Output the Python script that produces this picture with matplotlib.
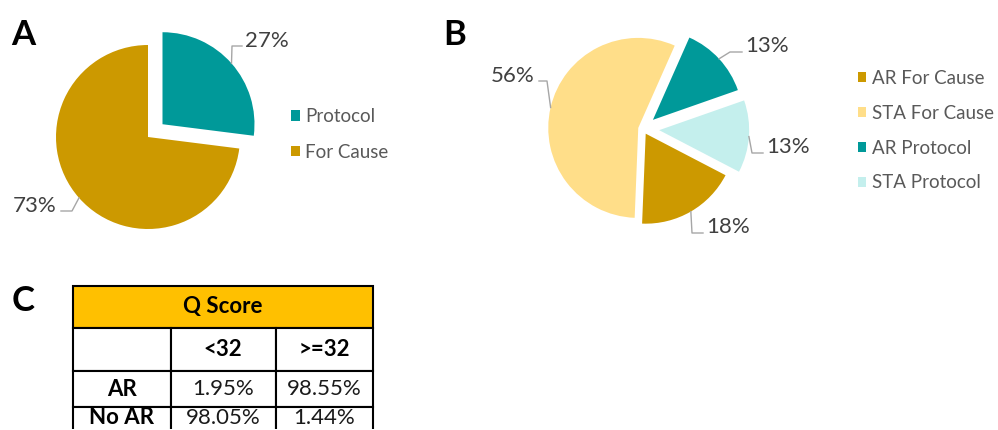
import math
import matplotlib.pyplot as plt

plt.rcParams['font.family'] = ['Lato', 'DejaVu Sans']

W, H = 998, 430

# panel A
a_labels = ['Protocol', 'For Cause']
a_values = [27, 73]

# panel B
b_labels = ['AR For Cause', 'STA For Cause', 'AR Protocol', 'STA Protocol']
b_values = [18, 56, 13, 13]

# panel C
q_header = 'Q Score'
q_cols = ['', '<32', '>=32']
q_rows = ['AR', 'No AR']
q_cells = [['1.95%', '98.55%'],
           ['98.05%', '1.44%']]

TEAL = '#009999'
GOLD = '#CC9900'
PALE_GOLD = '#FFDE89'
PALE_TEAL = '#C4EFED'
HEAD = '#FFC000'
LEAD = '#A6A6A6'
PCT = '#404040'
LEG = '#595959'

fig = plt.figure(figsize=(W / 100, H / 100), dpi=100)


def draw_pie(cx, cy, r, half, values, colors, explode, start, labels_at):
    ax = fig.add_axes([(cx - half) / W, 1 - (cy + half) / H, 2 * half / W, 2 * half / H])
    wedges, _ = ax.pie(values, colors=colors, explode=explode, startangle=start,
                       counterclock=False, wedgeprops=dict(linewidth=0))
    ax.set_xlim(-half / r, half / r)
    ax.set_ylim(-half / r, half / r)
    ax.set_aspect('equal')

    def d(px, py):
        return (px - cx) / r, (cy - py) / r

    # leader line from the middle of each wedge's rim to its label
    for w, v, (tx, ty, ha, bx, by) in zip(wedges, values, labels_at):
        mid = math.radians((w.theta1 + w.theta2) / 2)
        ex = w.center[0] + w.r * math.cos(mid)
        ey = w.center[1] + w.r * math.sin(mid)
        endx = tx + 4 if ha == 'right' else tx - 3
        p1 = d(bx, by)
        p2 = d(endx, by)
        ax.plot([ex, p1[0], p2[0]], [ey, p1[1], p2[1]], color=LEAD, lw=1.0, clip_on=False)
        t = d(tx, ty)
        ax.text(t[0], t[1], f'{v}%', ha=ha, va='baseline', fontsize=16, color=PCT)
    return ax, wedges


# A
axA, wA = draw_pie(148, 137, 92, 130, a_values, [TEAL, GOLD], [0.21, 0], 90,
                   [(245, 47, 'left', 232, 46), (57, 212, 'right', 72, 211)])
axA.legend(wA, a_labels, loc='upper left', bbox_to_anchor=(291 / W, 1 - 108 / H),
           bbox_transform=fig.transFigure, frameon=False, fontsize=13.5,
           labelcolor=LEG, handlelength=0.48, handleheight=0.48, handletextpad=0.27,
           labelspacing=1.0, borderpad=0, borderaxespad=0)

# B
axB, wB = draw_pie(643, 129, 90, 125, b_values, [GOLD, PALE_GOLD, TEAL, PALE_TEAL],
                   [0.06, 0.054, 0.15, 0.18], -27.5,
                   [(706, 233, 'left', 692, 233), (535, 82, 'right', 547, 81),
                    (745, 52, 'left', 730, 52), (766, 153, 'left', 752, 153)])
axB.legend(wB, b_labels, loc='upper left', bbox_to_anchor=(858 / W, 1 - 70 / H),
           bbox_transform=fig.transFigure, frameon=False, fontsize=13.5,
           labelcolor=LEG, handlelength=0.45, handleheight=0.45, handletextpad=0.3,
           labelspacing=0.95, borderpad=0, borderaxespad=0)

# C table (last row runs off the bottom of the figure)
row_h = [42, 43, 36, 22]
col_w = [97.5, 105, 97.5]
tot_h = sum(row_h)
axC = fig.add_axes([73 / W, 1 - (286 + tot_h) / H, sum(col_w) / W, tot_h / H])
axC.axis('off')

head = axC.table(cellText=[[q_header]], cellLoc='center',
                 bbox=[0, 1 - row_h[0] / tot_h, 1, row_h[0] / tot_h])
body_text = [q_cols] + [[r] + c for r, c in zip(q_rows, q_cells)]
body = axC.table(cellText=body_text, cellLoc='center', colWidths=col_w,
                 bbox=[0, 0, 1, 1 - row_h[0] / tot_h])
for tb in (head, body):
    tb.auto_set_font_size(False)
    tb.set_fontsize(16)
for (i, j), cell in head.get_celld().items():
    cell.set_facecolor(HEAD)
    cell.set_edgecolor('black')
    cell.set_linewidth(1.5)
    cell.get_text().set_fontweight('bold')
last = len(body_text) - 1
for (i, j), cell in body.get_celld().items():
    cell.set_height(row_h[i + 1])
    cell.set_edgecolor('black')
    cell.set_linewidth(1.5)
    if i == last:
        cell.visible_edges = 'LTR'
    if i == 0 or j == 0:
        cell.get_text().set_fontweight('bold')
    else:
        cell.get_text().set_color('#1A1A1A')

# panel letters
for s, x, y in [('A', 11, 45), ('B', 443, 45), ('C', 12, 311)]:
    fig.text(x / W, 1 - y / H, s, fontsize=25, fontweight='bold', va='baseline')

fig.savefig('out.png', dpi=100)
